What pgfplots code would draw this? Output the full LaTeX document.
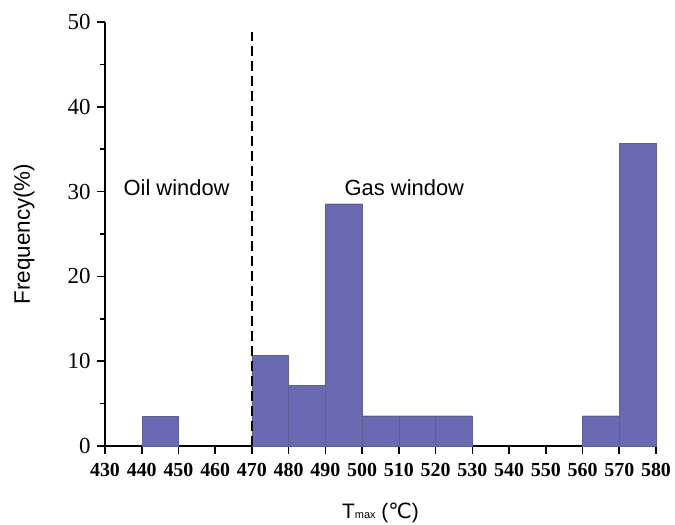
\documentclass[border=0pt]{standalone}
\usepackage{fontspec}
\setmainfont{Liberation Serif}
\newfontfamily\sans{Liberation Sans}
\newfontfamily\dejavu{DejaVu Sans}
\usepackage{pgfplots}
\pgfplotsset{compat=1.18}
\definecolor{barfill}{RGB}{106,106,178}
\definecolor{baredge}{RGB}{95,95,150}
\begin{document}
\begin{tikzpicture}
\path[use as bounding box] (-105bp,-79bp) rectangle (570bp,446bp);
\begin{axis}[
  scale only axis,
  width=551bp, height=424bp,
  xmin=430, xmax=580, ymin=0, ymax=50,
  axis x line=bottom, axis y line=left,
  axis line style={-, line width=2pt},
  xtick={430,440,...,580},
  ytick={0,10,...,50},
  minor y tick num=1,
  tick align=outside,
  major tick length=8bp, minor tick length=5bp,
  every tick/.style={line width=1.6pt, black},
  /pgf/number format/assume math mode=true,
  xticklabel style={font=\fontsize{20}{20}\selectfont\bfseries, yshift=-6bp},
  yticklabel style={font=\fontsize{23}{23}\selectfont, xshift=-3bp},
  ylabel={Frequency(\%)},
  ylabel style={font=\sans\fontsize{22.5}{22.5}\selectfont, at={(axis description cs:-0.147,0.5)}, anchor=center},
  xlabel={T{\fontsize{11}{11}\selectfont max} ({\dejavu ℃})},
  xlabel style={font=\sans\fontsize{21}{21}\selectfont, at={(axis description cs:0.5,-0.158)}, anchor=center},
  clip=false,
]
\addplot[ybar interval, fill=barfill, draw=baredge, line width=0.4pt] coordinates {(440,3.571)(450,3.571)};
\addplot[ybar interval, fill=barfill, draw=baredge, line width=0.4pt] coordinates {(470,10.714)(480,7.143)(490,28.571)(500,3.571)(510,3.571)(520,3.571)(530,3.571)};
\addplot[ybar interval, fill=barfill, draw=baredge, line width=0.4pt] coordinates {(560,3.571)(570,35.714)(580,35.714)};
\addplot[black, line width=1.4pt, dash pattern=on 10bp off 5bp] coordinates {(470,0)(470,48.8)};
\node[font=\sans\fontsize{22}{22}\selectfont] at (axis cs:449.5,30.5) {Oil window};
\node[font=\sans\fontsize{22}{22}\selectfont] at (axis cs:511.5,30.5) {Gas window};
\end{axis}
\end{tikzpicture}
\end{document}
